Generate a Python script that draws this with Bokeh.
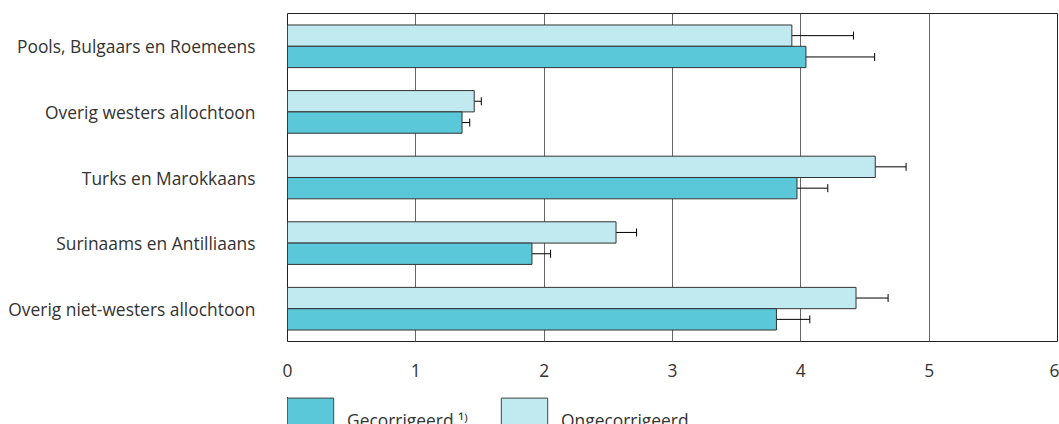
from bokeh.plotting import figure
from bokeh.models import (ColumnDataSource, FactorRange, Range1d, FixedTicker, Whisker, TeeHead,
                          Legend, LegendItem)
from bokeh.layouts import column
from bokeh.transform import dodge
from bokeh.embed import file_html
from bokeh.resources import INLINE

categories = ["Pools, Bulgaars en Roemeens", "Overig westers allochtoon", "Turks en Marokkaans",
              "Surinaams en Antilliaans", "Overig niet-westers allochtoon"]
gecorrigeerd = [4.04, 1.36, 3.97, 1.905, 3.81]
gecorrigeerd_lo = [3.56, 1.30, 3.74, 1.77, 3.58]
gecorrigeerd_hi = [4.575, 1.42, 4.21, 2.05, 4.07]
ongecorrigeerd = [3.93, 1.455, 4.58, 2.56, 4.43]
ongecorrigeerd_lo = [3.505, 1.40, 4.36, 2.41, 4.19]
ongecorrigeerd_hi = [4.41, 1.51, 4.82, 2.72, 4.68]
x_ticks = [0, 1, 2, 3, 4, 5, 6]
legend_labels = ["Gecorrigeerd \u00b9\u207e", "Ongecorrigeerd"]

FONT = "Open Sans"
FS = "17.4px"
TXT = "#333333"
DARK = "#5BC8D9"
LIGHT = "#C1EAF0"

src = ColumnDataSource(dict(cat=categories,
                            gc=gecorrigeerd, gc_lo=gecorrigeerd_lo, gc_hi=gecorrigeerd_hi,
                            uc=ongecorrigeerd, uc_lo=ongecorrigeerd_lo, uc_hi=ongecorrigeerd_hi))

p = figure(width=1059, height=397, output_backend="svg", toolbar_location=None,
           y_range=FactorRange(*reversed(categories), range_padding=0),
           x_range=Range1d(0, 6),
           min_border_left=287, min_border_right=2, min_border_top=13, min_border_bottom=56)

r_uc = p.hbar(y=dodge("cat", 0.1625, range=p.y_range), height=0.325, left=0, right="uc", source=src,
              fill_color=LIGHT, line_color="#333333", line_width=1)
r_gc = p.hbar(y=dodge("cat", -0.1625, range=p.y_range), height=0.325, left=0, right="gc", source=src,
              fill_color=DARK, line_color="#333333", line_width=1)

for lo, hi, off in (("uc_lo", "uc_hi", 0.1625), ("gc_lo", "gc_hi", -0.1625)):
    w = Whisker(base=dodge("cat", off, range=p.y_range), lower=lo, upper=hi, source=src,
                dimension="width", line_color="black", line_width=1,
                upper_head=TeeHead(size=8, line_color="black", line_width=1),
                lower_head=TeeHead(size=8, line_color="black", line_width=1))
    p.add_layout(w)

p.outline_line_color = "#222222"
p.outline_line_width = 1
p.ygrid.grid_line_color = None
p.xgrid.ticker = FixedTicker(ticks=x_ticks)
p.xgrid.grid_line_color = "#666666"
p.xgrid.grid_line_width = 1

p.xaxis.ticker = FixedTicker(ticks=x_ticks)
p.xaxis.axis_line_color = None
p.xaxis.major_tick_line_color = None
p.xaxis.minor_tick_line_color = None
p.xaxis.major_tick_out = 0
p.xaxis.major_label_standoff = 22
p.xaxis.major_label_text_font = FONT
p.xaxis.major_label_text_font_size = FS
p.xaxis.major_label_text_color = TXT

p.yaxis.axis_line_color = None
p.yaxis.major_tick_line_color = None
p.yaxis.major_tick_out = 0
p.yaxis.major_label_standoff = 32
p.yaxis.major_label_text_font = FONT
p.yaxis.major_label_text_font_size = FS
p.yaxis.major_label_text_color = TXT

# legend strip below the chart (proxy renderers lie outside this strip's range, so only the legend shows)
pl = figure(width=1059, height=27, output_backend="svg", toolbar_location=None,
            x_axis_type=None, y_axis_type=None, x_range=Range1d(0, 1), y_range=Range1d(-1, 0),
            min_border_left=0, min_border_right=0, min_border_top=0, min_border_bottom=0)
pl.outline_line_color = None
pl.xgrid.grid_line_color = None
pl.ygrid.grid_line_color = None
l_gc = pl.hbar(y="gc", left=0, right=0, height=0, source=src, fill_color=DARK, line_color="#444444")
l_uc = pl.hbar(y="uc", left=0, right=0, height=0, source=src, fill_color=LIGHT, line_color="#444444")

legend = Legend(items=[LegendItem(label=legend_labels[0], renderers=[l_gc]),
                       LegendItem(label=legend_labels[1], renderers=[l_uc])],
                orientation="horizontal", location=(-6, -24),
                glyph_width=58, glyph_height=56, label_standoff=8, spacing=27,
                padding=0, margin=0, border_line_alpha=0, background_fill_alpha=0,
                label_text_font=FONT, label_text_font_size=FS, label_text_color=TXT)
pl.add_layout(legend)

open("out.html", "w").write(file_html(column(p, pl, spacing=0), INLINE))
